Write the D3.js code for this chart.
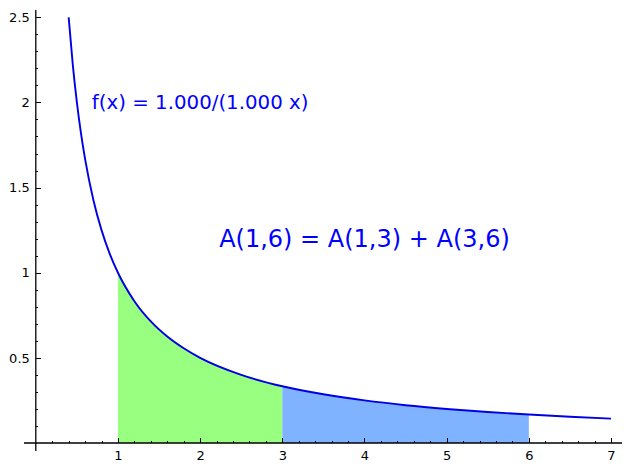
<!DOCTYPE html>
<html lang="en">
<head>
<meta charset="utf-8">
<script src="https://d3js.org/d3.v7.min.js"></script>
<title>A(1,6) = A(1,3) + A(3,6)</title>
<style type="text/css">
body {
	margin: 0;
	background-color: #ffffff;
}
.axis text {
	font: 13px "DejaVu Sans", sans-serif;
	fill: #000;
}
.axis line {
	stroke: #000;
	stroke-width: 1;
	shape-rendering: crispEdges;
}
.axis path {
	display: none;
}
</style>
</head>
<body>
<script type="text/javascript">
// curve points
var curveX = [0.4, 0.45, 0.5, 0.55, 0.6, 0.7, 0.8, 0.9, 1, 1.2, 1.4, 1.6, 1.8, 2, 2.5, 3, 3.5, 4, 4.5, 5, 5.5, 6, 6.5, 7];
var curveY = [2.5, 2.222, 2.0, 1.818, 1.667, 1.429, 1.25, 1.111, 1.0, 0.833, 0.714, 0.625, 0.556, 0.5, 0.4, 0.333, 0.286, 0.25, 0.222, 0.2, 0.182, 0.167, 0.154, 0.143];

// shaded intervals
var regionStart = [1, 3];
var regionEnd = [3, 6];
var regionColor = ["#99ff80", "#80b3ff"];

var xMajor = [1, 2, 3, 4, 5, 6, 7];
var yMajor = [0.5, 1, 1.5, 2, 2.5];

var labelText = ["f(x) = 1.000/(1.000 x)", "A(1,6) = A(1,3) + A(3,6)"];
var labelX = [2, 4];
var labelY = [2, 1.2];
var labelSize = [19.8, 24];

var width = 632;
var height = 472;

var x = d3.scaleLinear().domain([0, 7]).range([35.8, 611]);
var y = d3.scaleLinear().domain([0, 2.5]).range([443, 17.3]);

var svg = d3.select("body")
  .append("svg")
  .attr("width", width)
  .attr("height", height);

var points = curveX.map(function(d, i) { return [d, curveY[i]]; });

// filled areas under the curve
var area = d3.area()
  .x(function(d) { return x(d[0]); })
  .y0(y(0))
  .y1(function(d) { return y(d[1]); })
  .curve(d3.curveMonotoneX);

regionStart.forEach(function(a, i) {
  var part = points.filter(function(d) { return d[0] >= a && d[0] <= regionEnd[i]; });
  svg.append("path")
    .attr("d", area(part))
    .style("fill", regionColor[i])
    .style("stroke", "none");
});

// minor ticks
var xMinor = d3.range(1, 35).map(function(i) { return i / 5; }).filter(function(v) { return Math.abs(v - Math.round(v)) > 1e-6; });
var yMinor = d3.range(1, 25).map(function(i) { return i / 10; }).filter(function(v) { return Math.abs(v * 2 - Math.round(v * 2)) > 1e-6; });

svg.append("g")
  .attr("class", "axis")
  .attr("transform", "translate(0," + y(0) + ")")
  .call(d3.axisBottom(x).tickValues(xMinor).tickSizeInner(-2.5).tickSizeOuter(0).tickFormat(""));

svg.append("g")
  .attr("class", "axis")
  .attr("transform", "translate(0," + y(0) + ")")
  .call(d3.axisBottom(x).tickValues(xMajor).tickSizeInner(-5).tickSizeOuter(0).tickPadding(8).tickFormat(d3.format("")));

svg.append("g")
  .attr("class", "axis")
  .attr("transform", "translate(" + x(0) + ",0)")
  .call(d3.axisLeft(y).tickValues(yMinor).tickSizeInner(-2.5).tickSizeOuter(0).tickFormat(""));

svg.append("g")
  .attr("class", "axis")
  .attr("transform", "translate(" + x(0) + ",0)")
  .call(d3.axisLeft(y).tickValues(yMajor).tickSizeInner(-5).tickSizeOuter(0).tickPadding(6).tickFormat(d3.format("")));

// axis lines, a little past the data range
svg.append("line")
  .attr("x1", 24).attr("x2", 622)
  .attr("y1", y(0)).attr("y2", y(0))
  .style("stroke", "#000").style("stroke-width", 1.3);

svg.append("line")
  .attr("x1", x(0)).attr("x2", x(0))
  .attr("y1", 10).attr("y2", 451)
  .style("stroke", "#000").style("stroke-width", 1.3);

// the curve
var line = d3.line()
  .x(function(d) { return x(d[0]); })
  .y(function(d) { return y(d[1]); })
  .curve(d3.curveMonotoneX);

svg.append("path")
  .attr("d", line(points))
  .style("fill", "none")
  .style("stroke", "#0000e6")
  .style("stroke-width", 1.9);

// labels
labelText.forEach(function(t, i) {
  svg.append("text")
    .attr("x", x(labelX[i]))
    .attr("y", y(labelY[i]))
    .attr("text-anchor", "middle")
    .attr("dominant-baseline", "central")
    .style("font-family", "'DejaVu Sans', sans-serif")
    .style("font-size", labelSize[i] + "px")
    .style("fill", "#0000ff")
    .text(t);
});
</script>
</body>
</html>
